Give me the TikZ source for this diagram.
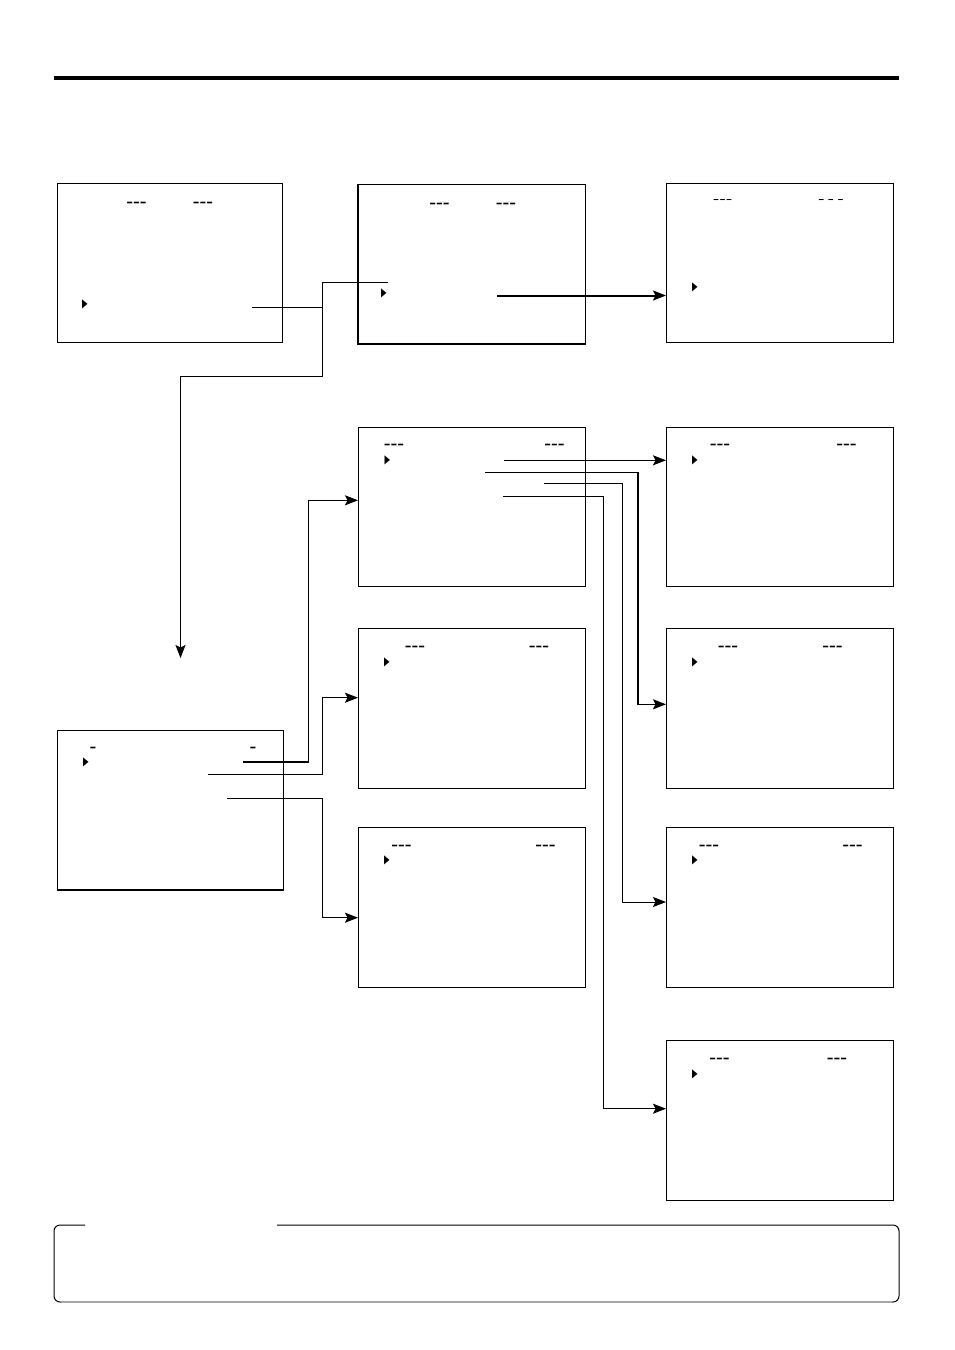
\documentclass[tikz,border=0pt]{standalone}
\usepackage{fontspec}
\usepackage{tikz}
\usetikzlibrary{arrows.meta, positioning}
\newfontfamily\dashfont{Liberation Sans}
\newfontfamily\trifont{DejaVu Sans}
\newcommand{\dsh}[1]{\scalebox{1.5}[1]{#1}}
\newcommand{\cursor}{\scalebox{0.6}[1]{▶}}

\begin{document}
\begin{tikzpicture}[x=1pt, y=-1pt,
        scr/.style={draw, line width=1pt, minimum width=227pt, minimum height=159pt,
            inner sep=0pt, anchor=north west},
        dshb/.style={font=\dashfont\bfseries\fontsize{13.5}{13.5}\selectfont, inner sep=0pt},
        dshl/.style={font=\dashfont\fontsize{13}{13}\selectfont, inner sep=0pt},
        cur/.style={font=\trifont\fontsize{12}{12}\selectfont, inner sep=0pt},
        link/.style={line width=1pt},
        conn/.style={line width=1pt, -{Stealth[length=13pt, width=10pt, inset=2.5pt]}}
    ]
        \useasboundingbox (0,0) rectangle (954,1350);
        % header rule
        \draw[line width=4pt] (54,78) -- (899,78);

        % screens
        \node[scr, minimum width=225pt] (scrTop) at (57,183) {};
        \node[scr] (scrSel) at (358,184) {};
        \node[scr] (scrRes) at (666,183) {};
        \node[scr] (scrP1) at (358,427) {};
        \node[scr] (scrQ1) at (666,427) {};
        \node[scr, minimum height=160pt] (scrP2) at (358,628) {};
        \node[scr, minimum height=160pt] (scrQ2) at (666,628) {};
        \node[scr, minimum width=226pt] (scrMenu) at (57,730) {};
        \node[scr, minimum height=160pt] (scrP3) at (358,827) {};
        \node[scr, minimum height=160pt] (scrQ3) at (666,827) {};
        \node[scr, minimum height=160pt] (scrQ4) at (666,1040) {};
        \draw[line width=2pt] (scrSel.north west) -- (scrSel.south west) -- (scrSel.south east);
        \draw[line width=2pt] (scrMenu.south west) -- (scrMenu.south east);

        % screen texts
        \node[dshb] (topD1) at (136.5,204) {\dsh{-{}-{}-}};
        \node[dshb] (topD2) at (203,204) {\dsh{-{}-{}-}};
        \node[cur] (topC) at (85,304) {\cursor};
        \node[dshb] (selD1) at (439.5,205) {\dsh{-{}-{}-}};
        \node[dshb] (selD2) at (506,205) {\dsh{-{}-{}-}};
        \node[cur] (selC) at (384,293) {\cursor};
        \node[dshl] (resD1) at (722.5,202) {\dsh{-{}-{}-}};
        \node[dshl] (resD2) at (831,202) {\dsh{-\,-\,-}};
        \node[cur] (resC) at (695,287) {\cursor};
        \node[dshb] (p1D1) at (394,446.5) {\dsh{-{}-{}-}};
        \node[dshb] (p1D2) at (554.5,446.5) {\dsh{-{}-{}-}};
        \node[cur] (p1C) at (387.5,460) {\cursor};
        \node[dshb] (q1D1) at (720,446.5) {\dsh{-{}-{}-}};
        \node[dshb] (q1D2) at (846.5,446.5) {\dsh{-{}-{}-}};
        \node[cur] (q1C) at (695,460) {\cursor};
        \node[dshb] (p2D1) at (415,648.5) {\dsh{-{}-{}-}};
        \node[dshb] (p2D2) at (539,648.5) {\dsh{-{}-{}-}};
        \node[cur] (p2C) at (387,662) {\cursor};
        \node[dshb] (q2D1) at (728,648.5) {\dsh{-{}-{}-}};
        \node[dshb] (q2D2) at (832.5,648.5) {\dsh{-{}-{}-}};
        \node[cur] (q2C) at (695,662) {\cursor};
        \node[dshb] (menuD1) at (93,749.5) {\dsh{-}};
        \node[dshb] (menuD2) at (253,749.5) {\dsh{-}};
        \node[cur] (menuC) at (86,762) {\cursor};
        \node[dshb] (p3D1) at (401.5,847.5) {\dsh{-{}-{}-}};
        \node[dshb] (p3D2) at (545.5,847.5) {\dsh{-{}-{}-}};
        \node[cur] (p3C) at (387,860) {\cursor};
        \node[dshb] (q3D1) at (709,847.5) {\dsh{-{}-{}-}};
        \node[dshb] (q3D2) at (852.5,847.5) {\dsh{-{}-{}-}};
        \node[cur] (q3C) at (695,860) {\cursor};
        \node[dshb] (q4D1) at (719.5,1060.5) {\dsh{-{}-{}-}};
        \node[dshb] (q4D2) at (837,1060.5) {\dsh{-{}-{}-}};
        \node[cur] (q4C) at (695,1074) {\cursor};

        % connector ends
        \coordinate (topOut) at (252,307.5);
        \coordinate (selIn) at (388,282.5);
        \coordinate (menuIn) at (180.5,658);
        \coordinate (selOut) at (497,295.5);
        \coordinate (menuOut1) at (243,762);
        \coordinate (menuOut2) at (208,774);
        \coordinate (menuOut3) at (227,798);
        \coordinate (p1Out1) at (504,460.3);
        \coordinate (p1Out2) at (485,472.3);
        \coordinate (p1Out3) at (544,483.3);
        \coordinate (p1Out4) at (503,496.3);

        % connectors
        \draw[link] (topOut) -- (322,307.5);
        \draw[conn] (selIn) -- (322,282.5) -- (322,376.5) -- (180.5,376.5) -- (menuIn);
        \draw[conn, line width=2pt] (selOut) -- (scrRes.west |- selOut);

        \draw[conn] (menuOut1) -- (308,762) -- (308,500.3) -- (scrP1.west |- 0,500.3);
        \draw[line width=2pt] (menuOut1) -- (308,762);
        \draw[conn] (menuOut2) -- (322.7,774) -- (322.7,697.7) -- (scrP2.west |- 0,697.7);
        \draw[conn] (menuOut3) -- (322.7,798) -- (322.7,917.7) -- (scrP3.west |- 0,917.7);

        \draw[conn] (p1Out1) -- (scrQ1.west |- p1Out1);
        \draw[conn, line width=1.6pt] (p1Out2) -- (638,472.3) -- (638,704.3) -- (scrQ2.west |- 0,704.3);
        \draw[conn] (p1Out3) -- (622,483.3) -- (622,902) -- (scrQ3.west |- 0,902);
        \draw[conn] (p1Out4) -- (603.6,496.3) -- (603.6,1108.7) -- (scrQ4.west |- 0,1108.7);

        % note box
        \draw[line width=1pt, rounded corners=6pt] (85,1225) -- (54,1225) -- (54,1302)
            -- (899,1302) -- (899,1225) -- (277,1225);
        \draw[line width=1.4pt, gray!70] (61,1302) -- (892,1302);
    \end{tikzpicture}
\end{document}
